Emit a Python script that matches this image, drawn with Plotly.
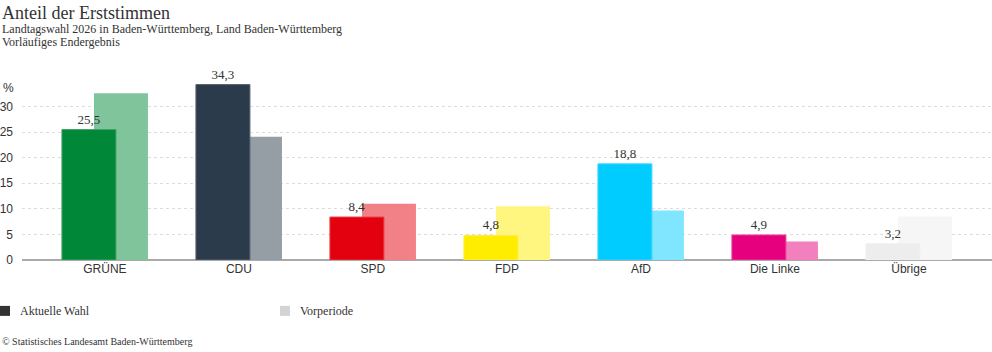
import plotly.graph_objects as go

categories = ["GRÜNE", "CDU", "SPD", "FDP", "AfD", "Die Linke", "Übrige"]
current = [25.5, 34.3, 8.4, 4.8, 18.8, 4.9, 3.2]
previous = [32.6, 24.1, 11.0, 10.5, 9.7, 3.6, 8.5]
colors_current = ["#008838", "#2c3b4b", "#e3000f", "#ffed00", "#00ccff", "#e6007e", "#ededed"]
colors_previous = ["#80c49c", "#959da5", "#f18087", "#fff680", "#80e5ff", "#f280be", "#f6f6f6"]
border_current = ["#3fa066", "#56626f", "#e84048", "#ffef40", "#40d8ff", "#ec409e", "#f0f0f0"]
y_ticks = [0, 5, 10, 15, 20, 25, 30]

serif = "Liberation Serif, Times New Roman, serif"
sans = "Liberation Sans, Arial, sans-serif"

fig = go.Figure()
fig.add_trace(go.Bar(
    x=categories, y=previous, name="Vorperiode",
    width=0.403, offset=-0.082,
    marker=dict(color=colors_previous, line=dict(width=0)),
    hoverinfo="skip", showlegend=False,
))
fig.add_trace(go.Bar(
    x=categories, y=current, name="Aktuelle Wahl",
    width=0.403, offset=-0.321,
    marker=dict(color=colors_current, line=dict(width=1, color=border_current)),
    text=[f"{v:.1f}".replace(".", ",") for v in current],
    textposition="outside", cliponaxis=False,
    textfont=dict(family=serif, size=13, color="#333333"),
    hoverinfo="skip", showlegend=False,
))

fig.update_layout(
    width=992, height=352,
    margin=dict(l=22, r=0, t=80.6, b=92),
    barmode="overlay",
    plot_bgcolor="white", paper_bgcolor="white",
    xaxis=dict(
        range=[-0.619, 6.62], showgrid=False, showline=False,
        ticks="", tickfont=dict(family=sans, size=12, color="#333333"),
        fixedrange=True,
    ),
    yaxis=dict(
        range=[0, 35], tickvals=y_ticks, ticktext=[str(t) for t in y_ticks],
        showgrid=True, gridcolor="#dddddd", griddash="dot", gridwidth=1,
        zeroline=True, zerolinecolor="#aaaaaa", zerolinewidth=2,
        ticks="", ticklabelstandoff=8,
        tickfont=dict(family=sans, size=12, color="#333333"),
        fixedrange=True,
    ),
    font=dict(family=serif, color="#333333"),
)

annotations = [
    dict(text="Anteil der Erststimmen", x=0, y=12, font=dict(family=serif, size=18, color="#333333")),
    dict(text="Landtagswahl 2026 in Baden-Württemberg, Land Baden-Württemberg", x=0, y=28,
         font=dict(family=serif, size=12, color="#333333")),
    dict(text="Vorläufiges Endergebnis", x=0, y=42, font=dict(family=serif, size=12, color="#333333")),
    dict(text="%", x=1, y=88, font=dict(family=sans, size=12, color="#333333")),
    dict(text="Aktuelle Wahl", x=18, y=311, font=dict(family=serif, size=12, color="#333333")),
    dict(text="Vorperiode", x=298, y=311, font=dict(family=serif, size=12, color="#333333")),
    dict(text="© Statistisches Landesamt Baden-Württemberg", x=0, y=342,
         font=dict(family=serif, size=10, color="#333333")),
]
for a in annotations:
    fig.add_annotation(
        text=a["text"], xref="paper", yref="paper",
        x=(a["x"] - 22) / 970, y=1 - (a["y"] - 80.6) / 179.4,
        xanchor="left", yanchor="middle", showarrow=False, font=a["font"],
    )

shapes = [
    dict(x0=0, x1=10, y0=306, y1=316, color="#333333"),
    dict(x0=280, x1=290, y0=306, y1=316, color="#d3d3d3"),
]
for s in shapes:
    fig.add_shape(
        type="rect", xref="paper", yref="paper",
        x0=(s["x0"] - 22) / 970, x1=(s["x1"] - 22) / 970,
        y0=1 - (s["y0"] - 80.6) / 179.4, y1=1 - (s["y1"] - 80.6) / 179.4,
        fillcolor=s["color"], line=dict(width=0),
    )

fig.write_html("out.html")
